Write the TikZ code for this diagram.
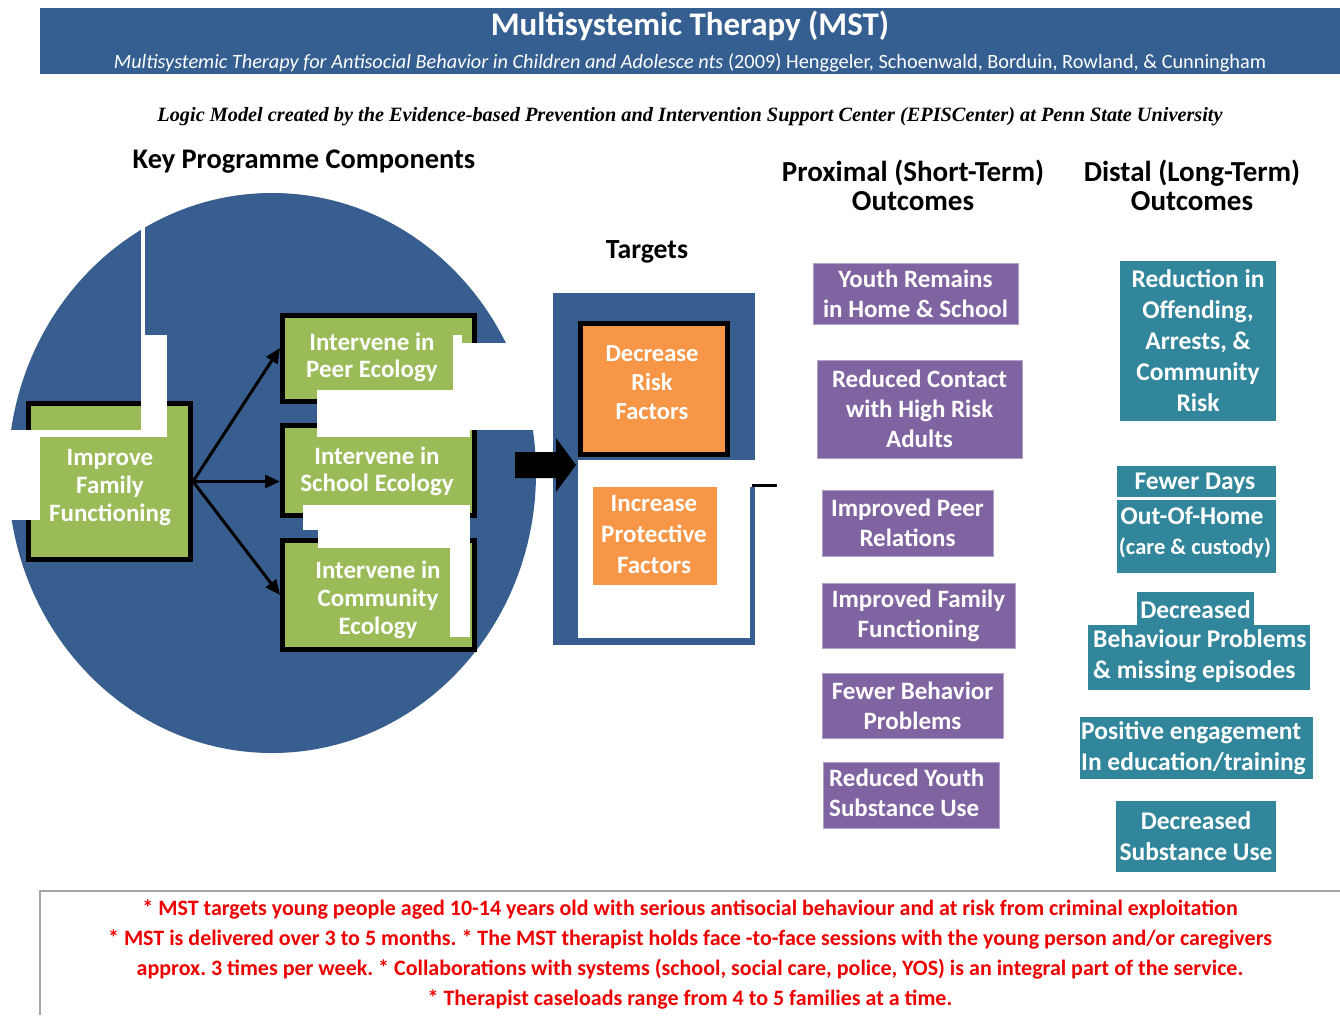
\documentclass[tikz,border=0pt]{standalone}
\usepackage{fontspec}
\setmainfont{Carlito}
\newfontfamily\serifbi{Liberation Serif}
\usetikzlibrary{arrows.meta}
\definecolor{hdrblue}{RGB}{54,95,145}
\definecolor{circblue}{RGB}{55,94,143}
\definecolor{boxgreen}{RGB}{155,187,89}
\definecolor{boxorange}{RGB}{247,150,70}
\definecolor{boxpurple}{RGB}{128,100,162}
\definecolor{boxteal}{RGB}{49,134,155}
\definecolor{footred}{RGB}{238,0,0}
\newcommand\myfs[2]{\fontsize{#1pt}{#2pt}\selectfont}
\frenchspacing
\begin{document}
\begin{tikzpicture}[x=1pt,y=-1pt,
  wt/.style={text=white, font=\bfseries\myfs{25}{28}, align=center, inner sep=0pt},
  greenframe/.style={fill=boxgreen, draw=black, line width=5pt, inner sep=0pt},
  whiteout/.style={fill=white},
  greenfill/.style={fill=boxgreen},
  arr/.style={draw=black, line width=3pt, -{Triangle[length=15pt,width=13pt]}},
  pbox/.style={fill=boxpurple, draw=boxpurple!60!white, line width=1pt, text=white, font=\bfseries\myfs{25}{30}, align=center, inner sep=0pt},
  tbox/.style={fill=boxteal, text=white, font=\bfseries\myfs{25.5}{31}, align=center, inner sep=0pt},
  ltxt/.style={text=white, font=\bfseries\myfs{25.5}{31}, align=left, inner sep=0pt, anchor=west},
  head/.style={font=\bfseries\myfs{29}{29}, align=center, inner sep=0pt},
  foot/.style={text=footred, font=\bfseries\myfs{22}{30}, inner sep=0pt}
]
\useasboundingbox (0,0) rectangle (1340,1015);
\fill[white] (0,0) rectangle (1340,1015);

% header
\fill[hdrblue] (40,8) rectangle (1340,74);
\node[text=white, font=\bfseries\myfs{33}{35}, inner sep=0pt] (title) at (690,26) {Multisystemic Therapy (MST)};
\node[text=white, font=\myfs{20.3}{22}, inner sep=0pt] (subtitle) at (690,63) {\textit{Multisystemic Therapy for Antisocial Behavior in Children and Adolesce nts} (2009) Henggeler, Schoenwald, Borduin, Rowland, \& Cunningham};
\node[font=\serifbi\bfseries\itshape\myfs{20.3}{22}, inner sep=0pt] (logic) at (690,117) {Logic Model created by the Evidence-based Prevention and Intervention Support Center (EPISCenter) at Penn State University};

% column headings
\node[head, font=\bfseries\myfs{28.4}{29}] (kpc) at (304,162) {Key Programme Components};
\node[head] (prox) at (913,185) {Proximal (Short-Term)\\Outcomes};
\node[head] (dist) at (1192,185) {Distal (Long-Term)\\Outcomes};
\node[font=\bfseries\myfs{27.7}{29}, inner sep=0pt] (targets) at (647,252) {Targets};

% big circle
\fill[circblue] (272,473) ellipse [x radius=264, y radius=280];

% framed green boxes
\node[greenframe, minimum width=162pt, minimum height=156pt] (impframe) at (109.5,481.5) {};
\node[greenframe, minimum width=192pt, minimum height=86pt] (peerframe) at (378.5,358.5) {};
\node[greenframe, minimum width=192pt, minimum height=90pt] (schoolframe) at (378.5,470.5) {};
\node[greenframe, minimum width=192pt, minimum height=109pt] (commframe) at (378.5,595) {};

% white slivers
\fill[whiteout] (141,185) rectangle (145,432);
\fill[whiteout] (145,335) rectangle (167,437);
\fill[whiteout] (0,430) rectangle (167,437);
\fill[whiteout] (0,430) rectangle (40,520);
\fill[whiteout] (453,343) rectangle (553,430);
\fill[whiteout] (453,335) rectangle (462,343);
\fill[whiteout] (317,390) rectangle (470,437);
\fill[whiteout] (303,505) rectangle (470,530);
\fill[whiteout] (318,530) rectangle (470,548);
\fill[whiteout] (450,548) rectangle (470,637);

% green text areas
\fill[greenfill] (40,437) rectangle (188,557);
\fill[greenfill] (285,318) rectangle (453,390);
\fill[greenfill] (300,437) rectangle (465,505);
\fill[greenfill] (285,548) rectangle (450,637);

% arrows
\draw[arr] (impframe.east) -- ([yshift=10.5pt]peerframe.west);
\draw[arr] (impframe.east) -- ([yshift=-11pt]schoolframe.west);
\draw[arr] (impframe.east) -- (commframe.west);

% green texts
\node[wt] (imptxt) at (110,488) {Improve\\Family\\Functioning};
\node[wt, font=\bfseries\myfs{25}{27}] (peertxt) at (372,357.5) {Intervene in\\Peer Ecology};
\node[wt, font=\bfseries\myfs{25}{27}] (schooltxt) at (377,471.5) {Intervene in\\School Ecology};
\node[wt] (commtxt) at (378,600) {Intervene in\\Community\\Ecology};

% targets frame
\fill[circblue] (553,293) rectangle (755,645);
\fill[whiteout] (578,460) rectangle (750,638);
\fill[whiteout] (750,460) rectangle (757,487);
\draw[black, line width=3pt] (752,485) -- (777,485);
\node[fill=boxorange, draw=black, line width=5pt, minimum width=147pt, minimum height=131pt, inner sep=0pt] (decframe) at (654,389) {};
\node[wt, font=\bfseries\myfs{24.5}{29}] (dectxt) at (652,383) {Decrease\\Risk\\Factors};
\node[fill=boxorange, minimum width=124pt, minimum height=98pt, inner sep=0pt] (incbox) at (655,536) {};
\node[wt, font=\bfseries\myfs{25}{31}] (inctxt) at (654,534) {Increase\\Protective\\Factors};

% block arrow
\fill[black] (515,452) -- (556,452) -- (556,438) -- (576,465) -- (556,492) -- (556,478) -- (515,478) -- cycle;

% proximal outcomes
\node[pbox, minimum width=205pt, minimum height=61pt] (p1) at (915.5,293.5) {Youth Remains\\in Home \& School};
\node[pbox, minimum width=205pt, minimum height=98pt] (p2) at (919.5,409) {Reduced Contact\\with High Risk\\Adults};
\node[pbox, minimum width=171pt, minimum height=66pt] (p3) at (907.5,523) {Improved Peer\\Relations};
\node[pbox, minimum width=193pt, minimum height=65pt] (p4) at (918.5,615.5) {Improved Family\\Functioning};
\node[pbox, minimum width=181pt, minimum height=65pt] (p5) at (912.5,705.5) {Fewer Behavior\\Problems};
\node[pbox, minimum width=176pt, minimum height=66pt] (p6) at (911,795) {};
\node[ltxt, font=\bfseries\myfs{25}{30}] (p6txt) at (829,793) {Reduced Youth\\Substance Use};

% distal outcomes
\node[tbox, minimum width=156pt, minimum height=160pt] (d1) at (1198,341) {Reduction in\\Offending,\\Arrests, \&\\Community\\Risk};
\node[tbox, minimum width=159pt, minimum height=107pt] (d2) at (1196.5,519.5) {};
\fill[whiteout] (1117,497) rectangle (1276,500);
\node[tbox, fill=none] (d2a) at (1195,483) {Fewer Days};
\node[tbox, fill=none] (d2b) at (1192,516) {Out-Of-Home};
\node[tbox, fill=none, font=\bfseries\myfs{22.5}{24}] (d2c) at (1195,548) {(care \& custody)};
\node[tbox, minimum width=222pt, minimum height=65pt] (d3) at (1199,657.5) {};
\node[tbox, minimum width=117pt, minimum height=35pt] (d3tab) at (1195.5,609.5) {Decreased};
\node[ltxt] (d3txt) at (1093,656.5) {Behaviour Problems\\\& missing episodes};
\node[tbox, minimum width=233pt, minimum height=62pt] (d4) at (1196.5,748) {};
\node[ltxt] (d4txt) at (1081,748.5) {Positive engagement\\In education/training};
\node[tbox, minimum width=160pt, minimum height=71pt] (d5) at (1196,836.5) {Decreased\\Substance Use};

% footer
\draw[gray!70, line width=1.5pt] (40,1015) -- (40,891) -- (1340,891);
\node[foot] (f1) at (690,909) {* MST targets young people aged 10-14 years old with serious antisocial behaviour and at risk from criminal exploitation};
\node[foot] (f2) at (690,939) {* MST is delivered over 3 to 5 months. * The MST therapist holds face -to-face sessions with the young person and/or caregivers};
\node[foot] (f3) at (690,969) {approx. 3 times per week. * Collaborations with systems (school, social care, police, YOS) is an integral part of the service.};
\node[foot] (f4) at (690,999) {* Therapist caseloads range from 4 to 5 families at a time.};
\end{tikzpicture}
\end{document}
